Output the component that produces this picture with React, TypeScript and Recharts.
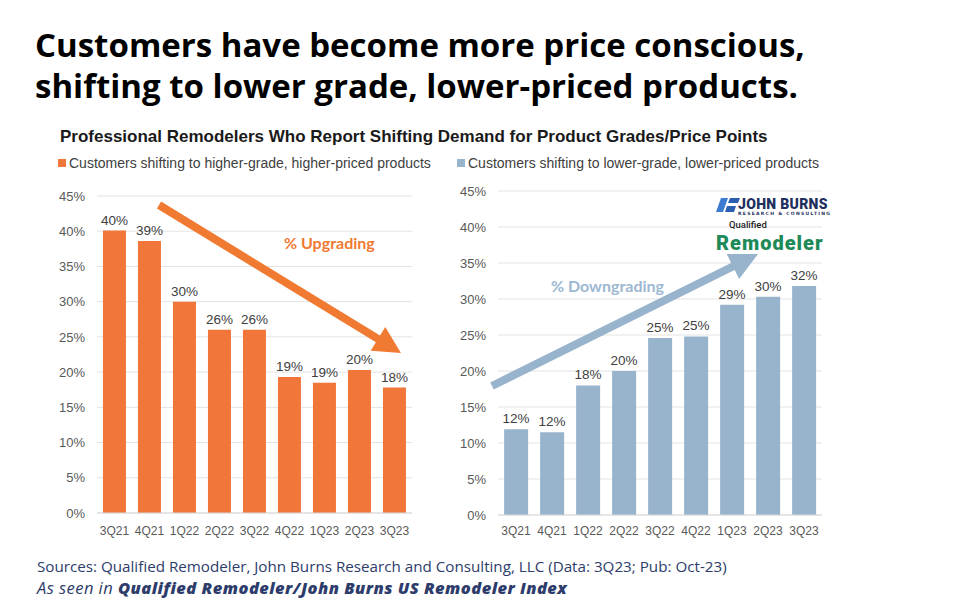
import React from 'react';
import { BarChart, Bar, XAxis, YAxis, CartesianGrid, LabelList } from 'recharts';

const categories = ['3Q21', '4Q21', '1Q22', '2Q22', '3Q22', '4Q22', '1Q23', '2Q23', '3Q23'];
const higherGrade = [40.1, 38.6, 30.0, 26.0, 26.0, 19.3, 18.5, 20.3, 17.8];
const lowerGrade = [11.9, 11.5, 18.0, 20.0, 24.6, 24.8, 29.2, 30.3, 31.8];
const yTicks = [0, 5, 10, 15, 20, 25, 30, 35, 40, 45];

const higherData = categories.map((q, i) => ({ q, v: higherGrade[i] }));
const lowerData = categories.map((q, i) => ({ q, v: lowerGrade[i] }));

const ORANGE = '#F1763A';
const BLUE = '#98B3CC';
const AX_FONT = '"Liberation Sans", Arial, sans-serif';

function Arrow({ x1, y1, x2, y2, color, w, hl, hw }: any) {
  const dx = x2 - x1, dy = y2 - y1;
  const len = Math.sqrt(dx * dx + dy * dy);
  const ux = dx / len, uy = dy / len;
  const bx = x2 - ux * hl, by = y2 - uy * hl;
  const px = -uy, py = ux;
  const pts = `${x2},${y2} ${bx + px * hw},${by + py * hw} ${bx - px * hw},${by - py * hw}`;
  return (
    <g>
      <line x1={x1} y1={y1} x2={bx + ux * 1} y2={by + uy * 1} stroke={color} strokeWidth={w} />
      <polygon points={pts} fill={color} />
    </g>
  );
}

function Panel({ data, color, left, top, width, height, xMargin, yWidth }: any) {
  return (
    <div style={{ position: 'absolute', left, top }}>
      <BarChart width={width} height={height} data={data} margin={{ top: 16, right: 18, bottom: 2, left: 0 }} barCategoryGap="17%">
        <CartesianGrid vertical={false} stroke="#e3e3e3" />
        <XAxis
          dataKey="q"
          tickLine={false}
          tickSize={0}
          tickMargin={xMargin}
          axisLine={{ stroke: '#d9d9d9' }}
          height={25}
          interval={0}
          tick={{ fill: '#595959', fontSize: 12, fontFamily: AX_FONT }}
        />
        <YAxis
          domain={[0, 45]}
          ticks={yTicks}
          tickFormatter={(v: number) => `${v}%`}
          axisLine={false}
          tickLine={false}
          tickSize={0}
          tickMargin={12}
          width={yWidth}
          interval={0}
          tick={{ fill: '#595959', fontSize: 13, fontFamily: AX_FONT }}
        />
        <Bar dataKey="v" fill={color} isAnimationActive={false}>
          <LabelList
            dataKey="v"
            position="top"
            offset={6}
            formatter={(v: any) => `${Math.round(Number(v))}%`}
            fill="#404040"
            fontSize={13.5}
            fontFamily={AX_FONT}
          />
        </Bar>
      </BarChart>
    </div>
  );
}

export default function App() {
  const titleStyle: any = { position: 'absolute', left: 35, fontFamily: '"Open Sans", Lato, sans-serif', fontWeight: 700, fontSize: 33, lineHeight: '40px', height: 40, color: '#000', whiteSpace: 'nowrap' };
  return (
    <div style={{ position: 'absolute', left: 0, top: 0, width: 960, height: 610, background: '#fff', overflow: 'hidden' }}>
      <div style={{ ...titleStyle, top: 25 }}>Customers have become more price conscious,</div>
      <div style={{ ...titleStyle, top: 66 }}>shifting to lower grade, lower-priced products.</div>
      <div style={{ position: 'absolute', left: 60, top: 127, fontFamily: AX_FONT, fontWeight: 700, fontSize: 17, lineHeight: '20px', color: '#1a1a1a', whiteSpace: 'nowrap' }}>
        Professional Remodelers Who Report Shifting Demand for Product Grades/Price Points
      </div>
      <div style={{ position: 'absolute', left: 58, top: 153, fontFamily: AX_FONT, fontSize: 14, lineHeight: '20px', color: '#404040', whiteSpace: 'nowrap', display: 'flex', alignItems: 'center' }}>
        <span style={{ display: 'inline-block', width: 8, height: 8, background: ORANGE, marginRight: 3 }} />
        Customers shifting to higher-grade, higher-priced products
      </div>
      <div style={{ position: 'absolute', left: 457, top: 153, fontFamily: AX_FONT, fontSize: 14, lineHeight: '20px', color: '#404040', whiteSpace: 'nowrap', display: 'flex', alignItems: 'center' }}>
        <span style={{ display: 'inline-block', width: 8, height: 8, background: BLUE, marginRight: 3 }} />
        Customers shifting to lower-grade, lower-priced products
      </div>

      <Panel data={higherData} color={ORANGE} left={40} top={180} width={390} height={360} xMargin={13} yWidth={57} />
      <Panel data={lowerData} color={BLUE} left={440} top={175} width={400} height={367} xMargin={11} yWidth={58} />

      {/* Logo */}
      <div style={{ position: 'absolute', left: 712, top: 195, width: 118, height: 58 }}>
        <svg width={24} height={14} style={{ position: 'absolute', left: 4, top: 3 }}>
          <polygon points="5,0 12,0 7,14 0,14" fill="#3d7bd0" />
          <polygon points="14,0 24,0 22,5 12,5" fill="#2d5fb0" />
          <polygon points="11,8 20,8 18,14 9,14" fill="#2d5fb0" />
        </svg>
        <div style={{ position: 'absolute', left: 26, top: 1, fontFamily: '"Roboto", "Open Sans", sans-serif', fontWeight: 900, fontSize: 14, lineHeight: '16px', color: '#1f2f5e', letterSpacing: 0.3, whiteSpace: 'nowrap' }}>JOHN BURNS</div>
        <div style={{ position: 'absolute', left: 26, top: 16, fontFamily: '"DejaVu Sans", sans-serif', fontWeight: 700, fontSize: 4.5, lineHeight: '6px', color: '#1f2f5e', letterSpacing: 1.3, whiteSpace: 'nowrap' }}>RESEARCH &amp; CONSULTING</div>
        <div style={{ position: 'absolute', left: 17, top: 25, fontFamily: '"Roboto", sans-serif', fontWeight: 500, fontSize: 9.5, lineHeight: '10px', color: '#222', whiteSpace: 'nowrap' }}>Qualified</div>
        <div style={{ position: 'absolute', left: 4, top: 41, fontFamily: '"Roboto", "Open Sans", sans-serif', fontWeight: 900, fontSize: 20, lineHeight: '14px', color: '#1e8a57', whiteSpace: 'nowrap', letterSpacing: 1 }}>Remodeler</div>
      </div>

      {/* Trend arrows */}
      <svg width={960} height={610} style={{ position: 'absolute', left: 0, top: 0, pointerEvents: 'none' }}>
        <Arrow x1={159} y1={205} x2={401} y2={353} color="#F07A32" w={8} hl={27} hw={14} />
        <Arrow x1={492} y1={386} x2={758} y2={254} color="#98B3CC" w={8} hl={28} hw={14} />
        <text x={284} y={249} fill="#F07A32" fontFamily='Lato, "Open Sans", sans-serif' fontWeight={700} fontSize={16}>% Upgrading</text>
        <text x={551} y={292} fill="#9DB8D2" fontFamily='Lato, "Open Sans", sans-serif' fontWeight={700} fontSize={16}>% Downgrading</text>
      </svg>

      <div style={{ position: 'absolute', left: 37, top: 556, fontFamily: '"Open Sans", Lato, sans-serif', fontSize: 15.2, lineHeight: '21px', color: '#2d3c6b', whiteSpace: 'nowrap' }}>
        <div>Sources: Qualified Remodeler, John Burns Research and Consulting, LLC (Data: 3Q23; Pub: Oct-23)</div>
        <div style={{ fontStyle: 'italic', fontSize: 16.5, letterSpacing: 0.45 }}>As seen in <span style={{ fontWeight: 800 }}>Qualified Remodeler/John Burns US Remodeler Index</span></div>
      </div>
    </div>
  );
}
